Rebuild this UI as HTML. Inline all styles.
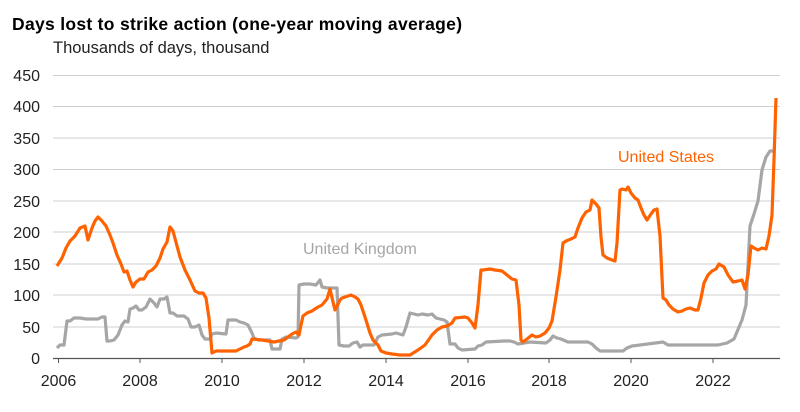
<!DOCTYPE html>
<html><head><meta charset="utf-8"><style>
body{margin:0;background:#fff;}
svg{display:block;font-family:"Liberation Sans",sans-serif;}
</style></head><body>
<svg width="800" height="412" viewBox="0 0 800 412">
<text x="12" y="30" font-size="17.5" font-weight="bold" fill="#000" letter-spacing="0.3">Days lost to strike action (one-year moving average)</text>
<text x="53" y="53" font-size="16.5" fill="#222">Thousands of days, thousand</text>
<g stroke="#cfcfcf" stroke-width="1">
<line x1="53" y1="75.5" x2="780" y2="75.5"/><line x1="53" y1="106.5" x2="780" y2="106.5"/>
<line x1="53" y1="138" x2="780" y2="138"/><line x1="53" y1="169.5" x2="780" y2="169.5"/>
<line x1="53" y1="201" x2="780" y2="201"/><line x1="53" y1="232" x2="780" y2="232"/>
<line x1="53" y1="264" x2="780" y2="264"/><line x1="53" y1="295" x2="780" y2="295"/>
<line x1="53" y1="327" x2="780" y2="327"/>
</g>
<line x1="53" y1="358.5" x2="780" y2="358.5" stroke="#555" stroke-width="1.2"/>
<g stroke="#555" stroke-width="1">
<line x1="58.5" y1="358" x2="58.5" y2="363"/><line x1="140" y1="358" x2="140" y2="363"/><line x1="222" y1="358" x2="222" y2="363"/><line x1="304" y1="358" x2="304" y2="363"/><line x1="386" y1="358" x2="386" y2="363"/><line x1="468" y1="358" x2="468" y2="363"/><line x1="549" y1="358" x2="549" y2="363"/><line x1="631" y1="358" x2="631" y2="363"/><line x1="713" y1="358" x2="713" y2="363"/>
</g>
<g font-size="16" fill="#222" text-anchor="end">
<text x="40" y="81">450</text><text x="40" y="112">400</text><text x="40" y="144">350</text><text x="40" y="175">300</text><text x="40" y="207">250</text><text x="40" y="238">200</text><text x="40" y="270">150</text><text x="40" y="301">100</text><text x="40" y="333">50</text><text x="40" y="364">0</text>
</g>
<g font-size="16" fill="#222" text-anchor="middle">
<text x="58.5" y="386">2006</text><text x="140" y="386">2008</text><text x="222" y="386">2010</text><text x="304" y="386">2012</text><text x="386" y="386">2014</text><text x="468" y="386">2016</text><text x="549" y="386">2018</text><text x="631" y="386">2020</text><text x="713" y="386">2022</text>
</g>
<polyline fill="none" stroke="#a6a6a6" stroke-width="3.2" stroke-linejoin="round" points="57,348 60,345 64,345 67,321 70,321 74,318 80,318 86,319 92,319 98,319 102,317 105,317 107,341 110,341 114,340 118,335 122,325 125,321 128,322 130,309 133,308 136,306 139,310 142,310 146,307 150,299 154,303 157,307 160,299 164,299 167,297 170,313 173,313 177,316 184,316 188,319 191,327 195,327 199,325 202,335 205,339 210,339 212,334 216,333 226,334 228,320 236,320 240,322 244,323 248,325 250,329 252,333 254,338 258,340 270,340 272,349 280,349 282,339 286,337 296,338 298,337 299,285 304,284 310,284 316,285 320,280 322,287 327,288 337,288 339,345 344,346 349,346 353,343 357,342 360,347 363,345 374,345 378,337 382,335 392,334 396,333 403,335 406,327 410,313 414,314 418,315 422,314 428,315 432,314 436,318 444,320 447,322 450,344 455,344 458,348 462,350 475,349 478,346 482,345 486,342 504,341 510,341 514,342 518,344 530,342 546,343 550,340 553,336 557,338 561,339 568,342 588,342 592,344 596,348 600,351 623,351 627,348 632,346 663,342 668,345 718,345 727,343 734,339 742,320 746,305 750,226 754,214 758,201 762,170 766,157 770,151 774,151"/>
<polyline fill="none" stroke="#ff6200" stroke-width="3.2" stroke-linejoin="round" points="57,266 62,258 66,248 70,241 75,236 80,228 85,226 88,240 92,228 95,221 98,217 102,221 106,226 110,235 113,243 117,255 121,264 124,272 127,271 130,280 133,287 136,282 140,279 144,279 148,272 152,270 156,266 160,258 163,249 167,242 170,227 173,231 177,246 180,257 185,270 190,280 195,291 199,293 203,293 206,298 209,318 212,353 216,351 236,351 240,349 244,347 247,346 250,344 252,339 262,340 274,342 284,340 288,337 292,334 296,332 299,335 301,325 303,316 307,313 312,311 318,307 322,305 327,299 330,289 333,302 335,310 338,304 340,300 342,298 345,297 351,295 355,297 358,299 361,305 365,317 370,333 373,340 378,345 381,351 386,353 392,354 400,355 410,355 418,350 425,345 432,335 437,330 442,327 447,326 452,323 455,318 465,317 468,318 472,323 475,328 478,305 481,270 483,270 490,269 495,270 502,271 507,275 512,279 516,280 519,305 521,340 523,342 527,339 532,335 536,337 540,336 545,333 549,328 552,321 556,297 560,270 563,243 566,241 571,239 575,237 578,228 582,218 586,212 590,210 592,200 596,204 599,208 601,237 603,255 607,258 612,260 615,261 617,243 620,190 622,189 626,190 628,187 631,193 635,198 638,200 641,208 644,215 647,220 651,214 654,210 657,209 660,236 663,298 666,300 669,305 673,309 678,312 682,311 686,309 690,308 695,310 698,310 701,298 704,283 708,275 712,271 716,269 719,264 724,267 728,275 733,282 738,281 742,280 745,289 748,275 751,246 754,248 758,250 762,248 766,249 769,236 772,215 774,160 776,98"/>
<text x="618" y="162" font-size="16" fill="#ff6200">United States</text>
<text x="303" y="254" font-size="16" fill="#a6a6a6">United Kingdom</text>
</svg>
</body></html>
